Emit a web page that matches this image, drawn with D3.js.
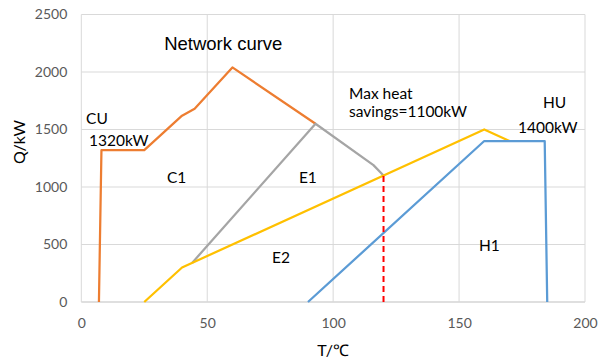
<!DOCTYPE html>
<meta charset="utf-8">
<html>
<head>
  <script src="https://d3js.org/d3.v7.min.js"></script>
  <style>
    body { margin: 0; background: #fff; }
    text { font-family: Lato, "Open Sans", sans-serif; }
  </style>
</head>
<body>
  <svg id="chart"></svg>
  <script type="text/javascript">
    // series, [T, Q]
    var cuCurve = [[7, 0], [8, 1320], [25, 1320], [40, 1620], [45, 1680], [60, 2040], [93, 1550]]
    var e1Curve = [[44, 340], [93, 1550], [116, 1190], [120, 1100]]
    var e2Curve = [[25, 0], [40, 300], [160, 1500], [170, 1400]]
    var huCurve = [[90, 0], [160, 1400], [184, 1400], [185, 0]]
    var savingsLine = [[120, 0], [120, 1100]]

    var xTicks = [0, 50, 100, 150, 200]
    var yTicks = [0, 500, 1000, 1500, 2000, 2500]

    // text labels placed in data units
    var labels = [
      { t: 'Network curve', x: 32.9, y: 2190, big: true },
      { t: 'CU', x: 1.9, y: 1548 },
      { t: '1320kW', x: 3.1, y: 1357 },
      { t: 'C1', x: 34, y: 1035 },
      { t: 'E1', x: 86.4, y: 1035 },
      { t: 'E2', x: 75.7, y: 339 },
      { t: 'H1', x: 157.9, y: 446 },
      { t: 'Max heat', x: 106.3, y: 1765 },
      { t: 'savings=1100kW', x: 106.3, y: 1609 },
      { t: 'HU', x: 183.3, y: 1687 },
      { t: '1400kW', x: 173.4, y: 1470 }
    ]

    var width = 608
    var height = 360

    const svg = d3.select('#chart')
      .attr('width', width)
      .attr('height', height)

    var x = d3.scaleLinear().domain([0, 200]).range([81.3, 585])
    var y = d3.scaleLinear().domain([0, 2500]).range([302, 14.5])

    // grid
    svg.append('g')
      .selectAll('line.h')
      .data(yTicks)
      .enter().append('line')
      .attr('x1', x(0)).attr('x2', x(200))
      .attr('y1', d => y(d)).attr('y2', d => y(d))
      .attr('stroke', d => d === 0 ? '#bfbfbf' : '#d9d9d9')
      .attr('stroke-width', 1)

    svg.append('g')
      .selectAll('line.v')
      .data(xTicks)
      .enter().append('line')
      .attr('x1', d => x(d)).attr('x2', d => x(d))
      .attr('y1', y(0)).attr('y2', y(2500))
      .attr('stroke', '#d9d9d9')
      .attr('stroke-width', 1)

    // tick labels via d3 axes, lines hidden
    var xAxis = svg.append('g')
      .attr('transform', 'translate(0,' + y(0) + ')')
      .call(d3.axisBottom(x).tickValues(xTicks).tickFormat(d3.format('d')).tickSize(0).tickPadding(16))
    var yAxis = svg.append('g')
      .attr('transform', 'translate(' + x(0) + ',0)')
      .call(d3.axisLeft(y).tickValues(yTicks).tickFormat(d3.format('d')).tickSize(0).tickPadding(14))
    ;[xAxis, yAxis].forEach(function(a) {
      a.select('.domain').remove()
      a.selectAll('text')
        .attr('fill', '#595959')
        .style('font-family', 'Lato, sans-serif')
        .style('font-size', '14px')
    })

    svg.append('text')
      .attr('x', (x(0) + x(200)) / 2)
      .attr('y', 356)
      .attr('text-anchor', 'middle')
      .attr('font-size', 16)
      .attr('fill', '#000')
      .text('T/℃')

    svg.append('text')
      .attr('transform', 'translate(25,142) rotate(-90)')
      .attr('text-anchor', 'middle')
      .attr('font-size', 16)
      .attr('fill', '#000')
      .text('Q/kW')

    var line = d3.line().x(d => x(d[0])).y(d => y(d[1]))

    var series = [
      { data: cuCurve, color: '#ED7D31' },
      { data: e1Curve, color: '#A5A5A5' },
      { data: e2Curve, color: '#FFC000' },
      { data: huCurve, color: '#5B9BD5' }
    ]

    svg.append('g')
      .selectAll('path')
      .data(series)
      .enter().append('path')
      .attr('d', d => line(d.data))
      .attr('fill', 'none')
      .attr('stroke', d => d.color)
      .attr('stroke-width', 2.25)
      .attr('stroke-linejoin', 'round')

    svg.append('path')
      .attr('d', line(savingsLine))
      .attr('fill', 'none')
      .attr('stroke', '#FF0000')
      .attr('stroke-width', 2)
      .attr('stroke-dasharray', '6,4')

    svg.append('g')
      .selectAll('text')
      .data(labels)
      .enter().append('text')
      .attr('x', d => x(d.x))
      .attr('y', d => y(d.y))
      .attr('fill', '#000')
      .style('font-family', d => d.big ? '"Liberation Sans", Arial, sans-serif' : 'Lato, sans-serif')
      .style('font-size', d => d.big ? '18.5px' : '15.5px')
      .text(d => d.t)
  </script>
</body>
</html>
